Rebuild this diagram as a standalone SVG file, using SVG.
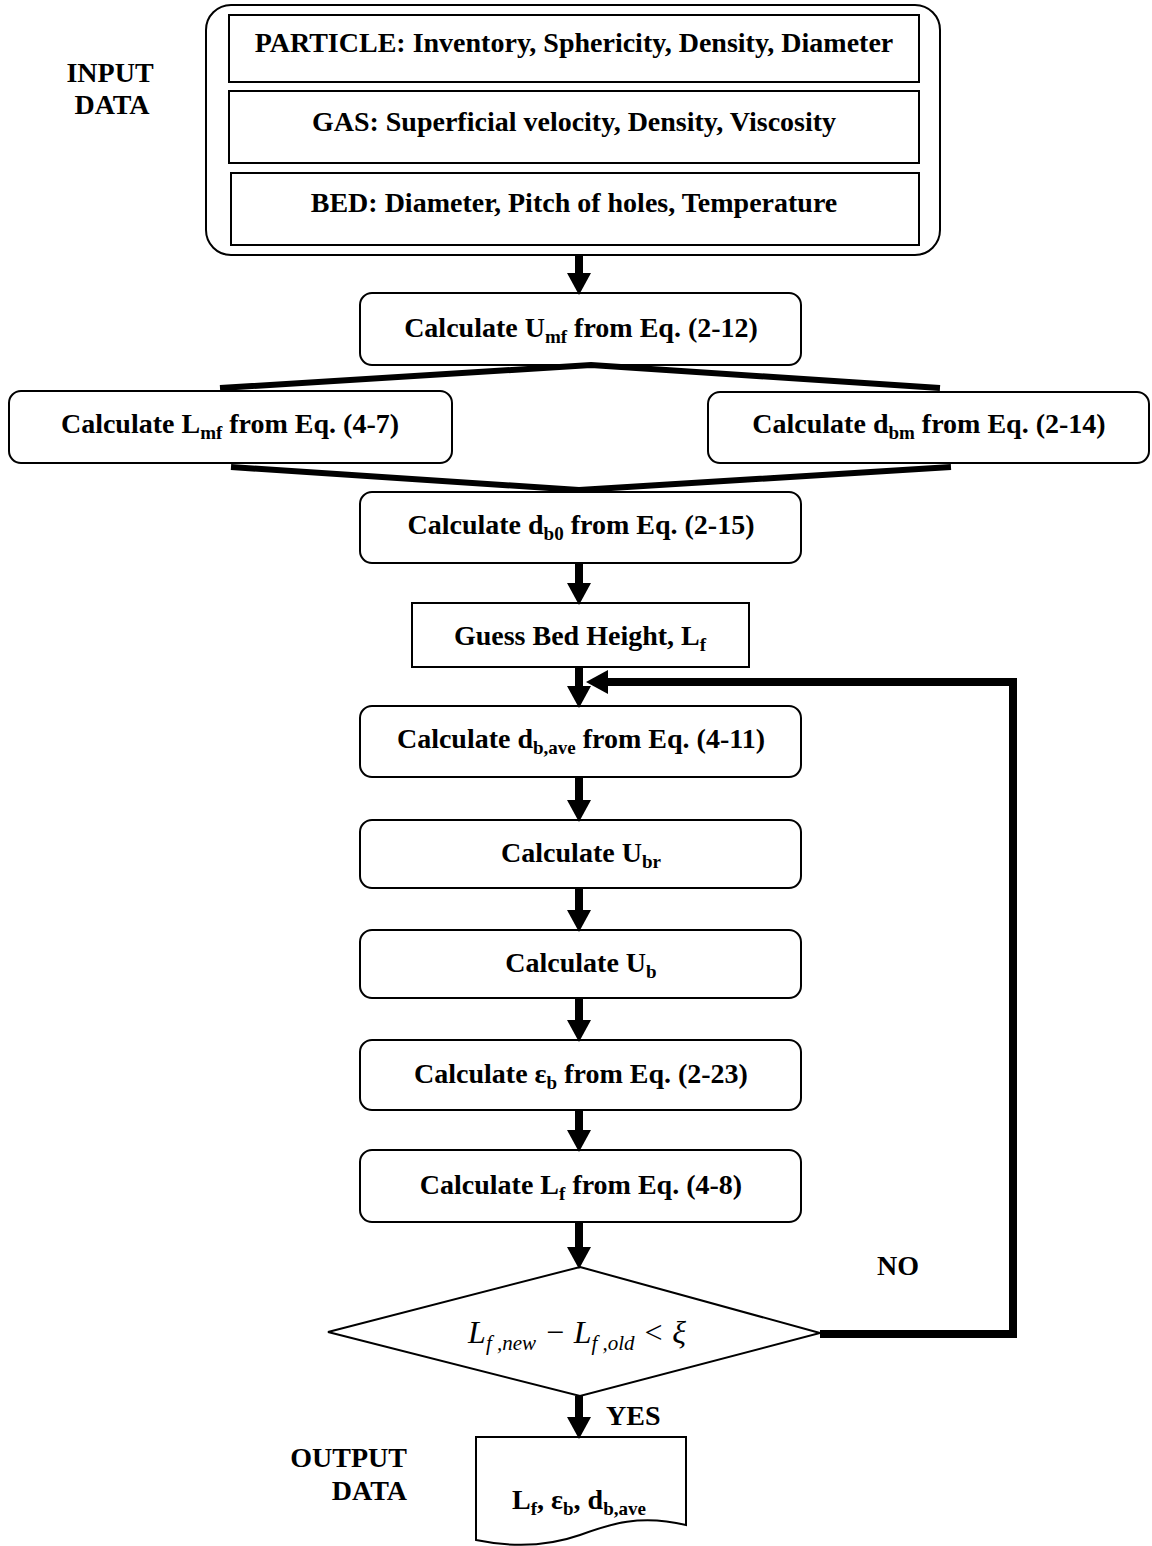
<svg xmlns="http://www.w3.org/2000/svg" width="1152" height="1546" viewBox="0 0 1152 1546">
<defs>
<style>
.box{fill:#fff;stroke:#000;stroke-width:2}
.t{font-family:"Liberation Serif","Times New Roman",serif;font-weight:bold;font-size:28px;fill:#000;text-anchor:middle}
.lbl{font-family:"Liberation Serif","Times New Roman",serif;font-weight:bold;font-size:28px;fill:#000}
.eq{font-family:"Liberation Serif","Times New Roman",serif;font-style:italic;font-size:32px;fill:#000;text-anchor:middle}
.conn{fill:none;stroke:#000;stroke-width:8}
.thick{fill:none;stroke:#000;stroke-width:6;stroke-linejoin:miter}
</style>
<marker id="ah" markerUnits="userSpaceOnUse" markerWidth="22" markerHeight="24" refX="0" refY="12" orient="auto" viewBox="0 0 22 24">
<path d="M0,0 L22,12 L0,24 Z" fill="#000"/>
</marker>
</defs>
<rect width="1152" height="1546" fill="#fff"/>

<g id="input-label">
<text class="lbl" x="110" y="82" text-anchor="middle">INPUT</text>
<text class="lbl" x="112" y="114" text-anchor="middle">DATA</text>
</g>

<g id="input-data">
<rect class="box" x="206" y="5" width="734" height="250" rx="25"/>
<rect class="box" x="229" y="15" width="690" height="67"/>
<text class="t" x="574" y="52">PARTICLE: Inventory, Sphericity, Density, Diameter</text>
<rect class="box" x="229" y="91" width="690" height="72"/>
<text class="t" x="574" y="131">GAS: Superficial velocity, Density, Viscosity</text>
<rect class="box" x="231" y="173" width="688" height="72"/>
<text class="t" x="574" y="212">BED: Diameter, Pitch of holes, Temperature</text>
</g>

<g id="umf">
<rect class="box" x="360" y="293" width="441" height="72" rx="12"/>
<text class="t" x="581" y="337">Calculate U<tspan font-size="19" dy="6">mf</tspan><tspan dy="-6"> from Eq. (2-12)</tspan></text>
</g>

<g id="lmf">
<rect class="box" x="9" y="391" width="443" height="72" rx="12"/>
<text class="t" x="230" y="433">Calculate L<tspan font-size="19" dy="6">mf</tspan><tspan dy="-6"> from Eq. (4-7)</tspan></text>
</g>

<g id="dbm">
<rect class="box" x="708" y="392" width="441" height="71" rx="12"/>
<text class="t" x="929" y="433">Calculate d<tspan font-size="19" dy="6">bm</tspan><tspan dy="-6"> from Eq. (2-14)</tspan></text>
</g>

<g id="db0">
<rect class="box" x="360" y="492" width="441" height="71" rx="12"/>
<text class="t" x="581" y="534">Calculate d<tspan font-size="19" dy="6">b0</tspan><tspan dy="-6"> from Eq. (2-15)</tspan></text>
</g>

<g id="guess">
<rect class="box" x="412" y="603" width="337" height="64"/>
<text class="t" x="580" y="645">Guess Bed Height, L<tspan font-size="19" dy="6">f</tspan></text>
</g>

<g id="dbave">
<rect class="box" x="360" y="706" width="441" height="71" rx="12"/>
<text class="t" x="581" y="748">Calculate d<tspan font-size="19" dy="6">b,ave</tspan><tspan dy="-6"> from Eq. (4-11)</tspan></text>
</g>

<g id="ubr">
<rect class="box" x="360" y="820" width="441" height="68" rx="12"/>
<text class="t" x="581" y="862">Calculate U<tspan font-size="19" dy="6">br</tspan></text>
</g>

<g id="ub">
<rect class="box" x="360" y="930" width="441" height="68" rx="12"/>
<text class="t" x="581" y="972">Calculate U<tspan font-size="19" dy="6">b</tspan></text>
</g>

<g id="epsb">
<rect class="box" x="360" y="1040" width="441" height="70" rx="12"/>
<text class="t" x="581" y="1083">Calculate ε<tspan font-size="19" dy="6">b</tspan><tspan dy="-6"> from Eq. (2-23)</tspan></text>
</g>

<g id="lf">
<rect class="box" x="360" y="1150" width="441" height="72" rx="12"/>
<text class="t" x="581" y="1194">Calculate L<tspan font-size="19" dy="6">f</tspan><tspan dy="-6"> from Eq. (4-8)</tspan></text>
</g>

<g id="decision">
<polygon class="box" points="580,1267 820,1333 580,1396 328,1332"/>
<text class="eq" x="577" y="1343">L<tspan font-size="21" dy="7">f ,new</tspan><tspan dy="-7"> − L</tspan><tspan font-size="21" dy="7">f ,old</tspan><tspan dy="-7"> &lt; ξ</tspan></text>
</g>

<g id="labels">
<text class="lbl" x="898" y="1275" text-anchor="middle">NO</text>
<text class="lbl" x="606" y="1425">YES</text>
<text class="lbl" x="407" y="1467" text-anchor="end">OUTPUT</text>
<text class="lbl" x="407" y="1500" text-anchor="end">DATA</text>
</g>

<g id="output">
<path class="box" d="M476,1437 L686,1437 L686,1525 C640,1514 610,1524 580,1535 C540,1549 505,1546 476,1540 Z"/>
<text class="t" x="579" y="1509">L<tspan font-size="19" dy="6">f</tspan><tspan dy="-6">, ε</tspan><tspan font-size="19" dy="6">b</tspan><tspan dy="-6">, d</tspan><tspan font-size="19" dy="6">b,ave</tspan></text>
</g>

<g id="connectors">
<line class="conn" x1="579" y1="255" x2="579" y2="273" marker-end="url(#ah)"/>
<polyline class="thick" points="220,388 591,365 940,388"/>
<polyline class="thick" points="231,467 579,490 951,467"/>
<line class="conn" x1="579" y1="563" x2="579" y2="583" marker-end="url(#ah)"/>
<line class="conn" x1="579" y1="667" x2="579" y2="686" marker-end="url(#ah)"/>
<line class="conn" x1="579" y1="777" x2="579" y2="800" marker-end="url(#ah)"/>
<line class="conn" x1="579" y1="888" x2="579" y2="910" marker-end="url(#ah)"/>
<line class="conn" x1="579" y1="998" x2="579" y2="1020" marker-end="url(#ah)"/>
<line class="conn" x1="579" y1="1110" x2="579" y2="1130" marker-end="url(#ah)"/>
<line class="conn" x1="579" y1="1222" x2="579" y2="1247" marker-end="url(#ah)"/>
<line class="conn" x1="579" y1="1396" x2="579" y2="1417" marker-end="url(#ah)"/>
<polyline class="conn" stroke-width="7" points="820,1334 1013,1334 1013,682 608,682" marker-end="url(#ah)"/>
</g>
</svg>
